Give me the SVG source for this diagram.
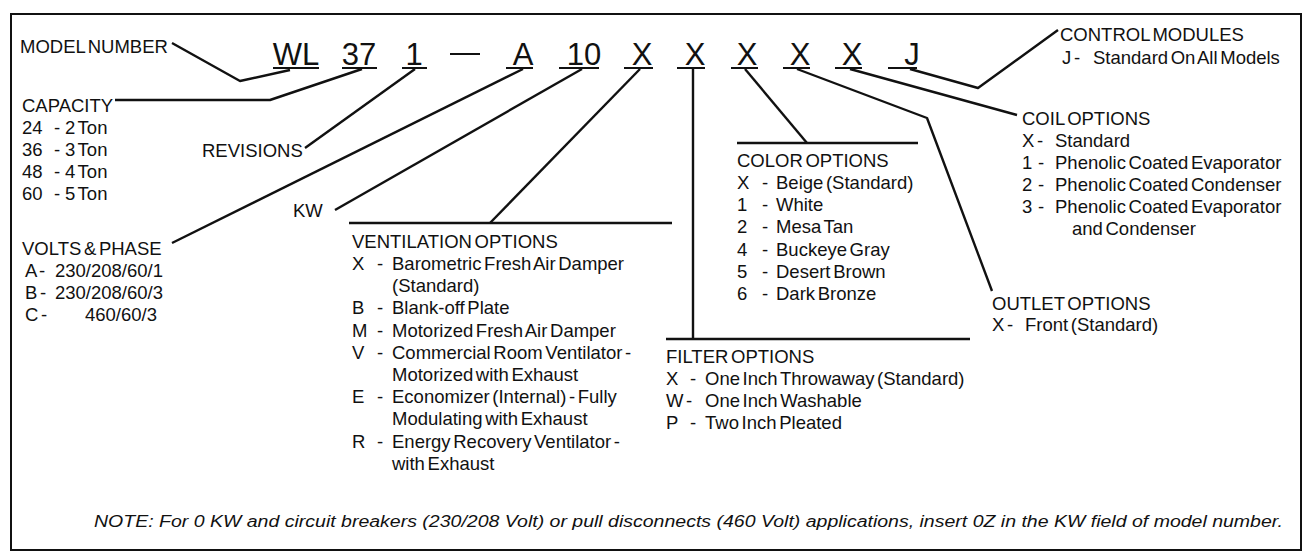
<svg xmlns="http://www.w3.org/2000/svg" width="1304" height="552" viewBox="0 0 1304 552">
<style>
text{font-family:"Liberation Sans",Arial,sans-serif;fill:#111;}
.t{font-size:18.5px;word-spacing:-2.5px;}
.big{font-size:31px;text-anchor:middle;}
.note{font-size:16px;font-style:italic;}
.ln{fill:none;stroke:#111;stroke-width:2.4;stroke-linejoin:round;}
.ul{stroke:#111;stroke-width:2;}
</style>
<rect x="11" y="14" width="1290" height="536" fill="#fff" stroke="#111" stroke-width="2"/>

<g id="model-code">
<text class="big" x="296" y="65">WL</text>
<text class="big" x="359" y="65">37</text>
<text class="big" x="414" y="65">1</text>
<text class="big" x="523" y="65">A</text>
<text class="big" x="584" y="65">10</text>
<text class="big" x="642" y="65">X</text>
<text class="big" x="695" y="65">X</text>
<text class="big" x="747" y="65">X</text>
<text class="big" x="800" y="65">X</text>
<text class="big" x="852" y="65">X</text>
<text class="big" x="912" y="65">J</text>
<line class="ul" x1="450" y1="54" x2="480" y2="54"/>
<g class="ul">
<line x1="273" y1="68" x2="319" y2="68"/>
<line x1="342" y1="68" x2="377" y2="68"/>
<line x1="402" y1="68" x2="427" y2="68"/>
<line x1="506" y1="68" x2="533" y2="68"/>
<line x1="559" y1="68" x2="599" y2="68"/>
<line x1="624" y1="68" x2="653" y2="68"/>
<line x1="677" y1="68" x2="705" y2="68"/>
<line x1="731" y1="68" x2="758" y2="68"/>
<line x1="783" y1="68" x2="810" y2="68"/>
<line x1="835" y1="68" x2="862" y2="68"/>
<line x1="888" y1="68" x2="917" y2="68"/>
</g>
</g>

<g id="connectors">
<polyline class="ln" points="172,43 240,81 290,70"/>
<polyline class="ln" points="115,100 270,100 362,69"/>
<polyline class="ln" points="305,148 415,69"/>
<polyline class="ln" points="172,243 523,69"/>
<polyline class="ln" points="335,210 582,69"/>
<polyline class="ln" points="490,223 640,69"/>
<polyline class="ln" points="693,69 693,339"/>
<polyline class="ln" points="745,69 807,143"/>
<polyline class="ln" points="797,69 927,118 992,291"/>
<polyline class="ln" points="850,69 1017,115"/>
<polyline class="ln" points="910,69 978,88 1058,30"/>
<line class="ln" x1="349" y1="223" x2="672" y2="223"/>
<line class="ln" x1="737" y1="143" x2="918" y2="143"/>
<line class="ln" x1="666" y1="339" x2="970" y2="339"/>
</g>

<g id="model-number">
<text class="t" x="20" y="53">MODEL NUMBER</text>
</g>

<g id="capacity">
<text class="t" x="22" y="112">CAPACITY</text>
<text class="t" y="134"><tspan x="22">24</tspan><tspan x="54">-</tspan><tspan x="65">2 Ton</tspan></text>
<text class="t" y="156"><tspan x="22">36</tspan><tspan x="54">-</tspan><tspan x="65">3 Ton</tspan></text>
<text class="t" y="178"><tspan x="22">48</tspan><tspan x="54">-</tspan><tspan x="65">4 Ton</tspan></text>
<text class="t" y="200"><tspan x="22">60</tspan><tspan x="54">-</tspan><tspan x="65">5 Ton</tspan></text>
</g>

<g id="revisions">
<text class="t" x="202" y="157">REVISIONS</text>
</g>

<g id="volts-phase">
<text class="t" x="22" y="255">VOLTS &amp; PHASE</text>
<text class="t" y="277"><tspan x="25">A -</tspan><tspan x="55">230/208/60/1</tspan></text>
<text class="t" y="299"><tspan x="25">B -</tspan><tspan x="55">230/208/60/3</tspan></text>
<text class="t" y="321"><tspan x="25">C -</tspan><tspan x="85">460/60/3</tspan></text>
</g>

<g id="kw">
<text class="t" x="293" y="217">KW</text>
</g>

<g id="ventilation">
<text class="t" x="352" y="248">VENTILATION OPTIONS</text>
<text class="t" y="270"><tspan x="352">X</tspan><tspan x="377">-</tspan><tspan x="392">Barometric Fresh Air Damper</tspan></text>
<text class="t" x="392" y="292">(Standard)</text>
<text class="t" y="314"><tspan x="352">B</tspan><tspan x="377">-</tspan><tspan x="392">Blank-off Plate</tspan></text>
<text class="t" y="337"><tspan x="352">M</tspan><tspan x="377">-</tspan><tspan x="392">Motorized Fresh Air Damper</tspan></text>
<text class="t" y="359"><tspan x="352">V</tspan><tspan x="377">-</tspan><tspan x="392">Commercial Room Ventilator -</tspan></text>
<text class="t" x="392" y="381">Motorized with Exhaust</text>
<text class="t" y="403"><tspan x="352">E</tspan><tspan x="377">-</tspan><tspan x="392">Economizer (Internal) - Fully</tspan></text>
<text class="t" x="392" y="425">Modulating with Exhaust</text>
<text class="t" y="448"><tspan x="352">R</tspan><tspan x="377">-</tspan><tspan x="392">Energy Recovery Ventilator -</tspan></text>
<text class="t" x="392" y="470">with Exhaust</text>
</g>

<g id="color">
<text class="t" x="737" y="167">COLOR OPTIONS</text>
<text class="t" y="189"><tspan x="737">X</tspan><tspan x="762">-</tspan><tspan x="776">Beige (Standard)</tspan></text>
<text class="t" y="211"><tspan x="737">1</tspan><tspan x="762">-</tspan><tspan x="776">White</tspan></text>
<text class="t" y="233"><tspan x="737">2</tspan><tspan x="762">-</tspan><tspan x="776">Mesa Tan</tspan></text>
<text class="t" y="256"><tspan x="737">4</tspan><tspan x="762">-</tspan><tspan x="776">Buckeye Gray</tspan></text>
<text class="t" y="278"><tspan x="737">5</tspan><tspan x="762">-</tspan><tspan x="776">Desert Brown</tspan></text>
<text class="t" y="300"><tspan x="737">6</tspan><tspan x="762">-</tspan><tspan x="776">Dark Bronze</tspan></text>
</g>

<g id="filter">
<text class="t" x="666" y="363">FILTER OPTIONS</text>
<text class="t" y="385"><tspan x="666">X</tspan><tspan x="690">-</tspan><tspan x="705">One Inch Throwaway (Standard)</tspan></text>
<text class="t" y="407"><tspan x="666">W -</tspan><tspan x="705">One Inch Washable</tspan></text>
<text class="t" y="429"><tspan x="666">P</tspan><tspan x="690">-</tspan><tspan x="705">Two Inch Pleated</tspan></text>
</g>

<g id="outlet">
<text class="t" x="992" y="310">OUTLET OPTIONS</text>
<text class="t" y="331"><tspan x="992">X -</tspan><tspan x="1025">Front (Standard)</tspan></text>
</g>

<g id="coil">
<text class="t" x="1022" y="125">COIL OPTIONS</text>
<text class="t" y="147"><tspan x="1022">X -</tspan><tspan x="1055">Standard</tspan></text>
<text class="t" y="169"><tspan x="1022">1</tspan><tspan x="1038">-</tspan><tspan x="1055">Phenolic Coated Evaporator</tspan></text>
<text class="t" y="191"><tspan x="1022">2</tspan><tspan x="1038">-</tspan><tspan x="1055">Phenolic Coated Condenser</tspan></text>
<text class="t" y="213"><tspan x="1022">3</tspan><tspan x="1038">-</tspan><tspan x="1055">Phenolic Coated Evaporator</tspan></text>
<text class="t" x="1072" y="235">and Condenser</text>
</g>

<g id="control">
<text class="t" x="1060" y="41">CONTROL MODULES</text>
<text class="t" y="64"><tspan x="1062">J -</tspan><tspan x="1093">Standard On All Models</tspan></text>
</g>

<g id="note">
<text class="note" x="94" y="527" textLength="1189" lengthAdjust="spacingAndGlyphs">NOTE:  For 0 KW and circuit breakers (230/208 Volt) or pull disconnects (460 Volt) applications, insert 0Z in the KW field of model number.</text>
</g>
</svg>
